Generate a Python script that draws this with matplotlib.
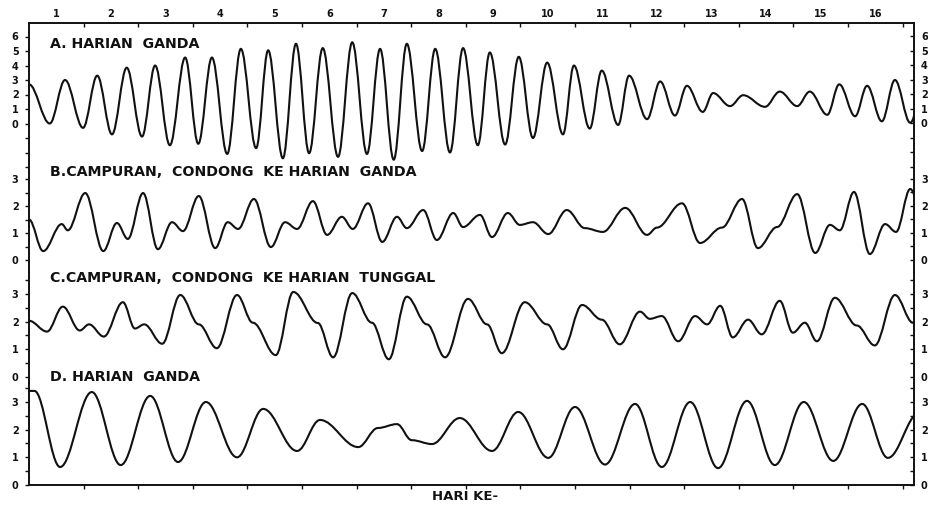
import matplotlib
matplotlib.use("Agg")
import matplotlib.pyplot as plt
from matplotlib.path import Path
from matplotlib.patches import PathPatch

plt.rcParams['font.family'] = ['DejaVu Sans']
plt.rcParams['font.weight'] = 'bold'

# ---------------- data (turning points) ----------------
# x in days from start of record, y in metres
day_labels = [str(d) for d in range(1, 17)]

a_title = "A. HARIAN  GANDA"
a_days = [0.00, 0.38, 0.66, 0.99, 1.25, 1.52, 1.79, 2.07, 2.31, 2.58, 2.86, 3.10, 3.35, 3.63,
          3.88, 4.16, 4.38, 4.65, 4.89, 5.13, 5.38, 5.66, 5.92, 6.19, 6.43, 6.68, 6.92, 7.20,
          7.44, 7.71, 7.95, 8.22, 8.44, 8.72, 8.97, 9.23, 9.49, 9.78, 9.98, 10.27, 10.49, 10.79,
          10.99, 11.32, 11.56, 11.83, 12.05, 12.34, 12.53, 12.84, 13.08, 13.48, 13.75, 14.07,
          14.30, 14.62, 14.84, 15.13, 15.35, 15.62, 15.86, 16.14, 16.41]
a_level = [2.7, 0.0, 3.0, -0.3, 3.3, -0.75, 3.85, -0.9, 4.0, -1.5, 4.55, -1.4, 4.55, -2.1,
           5.15, -1.7, 5.05, -2.4, 5.5, -2.05, 5.2, -2.3, 5.6, -2.1, 5.15, -2.5, 5.5, -1.9,
           5.15, -2.0, 5.2, -1.5, 4.9, -1.45, 4.6, -1.0, 4.2, -0.75, 4.0, -0.35, 3.65, -0.1,
           3.3, 0.3, 2.9, 0.55, 2.6, 0.8, 2.1, 1.2, 1.95, 1.15, 2.2, 1.2,
           2.2, 0.6, 2.7, 0.5, 2.6, 0.15, 3.0, 0.05, 3.0]

b_title = "B.CAMPURAN,  CONDONG  KE HARIAN  GANDA"
b_days = [0.00, 0.26, 0.60, 0.71, 1.03, 1.36, 1.61, 1.81, 2.09, 2.36, 2.62, 2.82, 3.11, 3.41,
          3.64, 3.83, 4.12, 4.43, 4.69, 4.91, 5.20, 5.46, 5.73, 5.93, 6.21, 6.47, 6.74, 6.92,
          7.22, 7.47, 7.77, 7.95, 8.26, 8.48, 8.77, 8.99, 9.23, 9.51, 9.85, 10.18, 10.51, 10.92,
          11.32, 11.50, 11.96, 12.29, 12.69, 13.06, 13.35, 13.70, 14.07, 14.40, 14.67, 14.85,
          15.11, 15.40, 15.68, 15.88, 16.14, 16.50]
b_level = [1.5, 0.33, 1.33, 1.1, 2.48, 0.33, 1.37, 0.78, 2.48, 0.4, 1.4, 1.07, 2.37, 0.44,
           1.4, 1.15, 2.26, 0.48, 1.4, 1.15, 2.18, 0.93, 1.6, 1.15, 2.1, 0.67, 1.6, 1.18,
           1.85, 0.74, 1.74, 1.22, 1.67, 0.85, 1.74, 1.3, 1.4, 0.96, 1.85, 1.18, 1.04, 1.93,
           0.93, 1.2, 2.1, 0.63, 1.2, 2.26, 0.44, 1.22, 2.44, 0.26, 1.3, 1.1,
           2.52, 0.22, 1.33, 1.04, 2.63, 0.3]

c_title = "C.CAMPURAN,  CONDONG  KE HARIAN  TUNGGAL"
c_days = [0.00, 0.33, 0.62, 0.93, 1.10, 1.37, 1.72, 1.94, 2.11, 2.44, 2.77, 3.11, 3.44, 3.81,
          4.10, 4.52, 4.84, 5.29, 5.57, 5.92, 6.28, 6.59, 6.92, 7.29, 7.62, 8.04, 8.39, 8.66,
          9.08, 9.49, 9.78, 10.13, 10.49, 10.82, 11.19, 11.37, 11.59, 11.89, 12.20, 12.42,
          12.66, 12.89, 13.17, 13.42, 13.75, 13.99, 14.21, 14.43, 14.76, 15.16, 15.49, 15.86,
          16.19, 16.50]
c_level = [2.03, 1.64, 2.54, 1.68, 1.9, 1.46, 2.7, 1.75, 1.9, 1.2, 2.96, 1.9, 1.04, 2.96,
           1.96, 0.79, 3.07, 1.95, 0.71, 3.03, 1.96, 0.64, 2.9, 1.9, 0.71, 2.82, 1.9, 0.86,
           2.7, 1.9, 1.0, 2.6, 2.07, 1.18, 2.36, 2.1, 2.2, 1.29, 2.2, 1.9,
           2.57, 1.43, 2.07, 1.54, 2.75, 1.6, 1.96, 1.29, 2.86, 1.86, 1.14, 2.96,
           1.96, 1.3]

d_title = "D. HARIAN  GANDA"
d_days = [0.00, 0.10, 0.57, 1.15, 1.68, 2.22, 2.73, 3.24, 3.81, 4.29, 4.91, 5.33, 6.03, 6.39,
          6.74, 7.01, 7.38, 7.89, 8.48, 8.96, 9.51, 10.00, 10.55, 11.10, 11.59, 12.11, 12.62,
          13.15, 13.66, 14.19, 14.73, 15.26, 15.73, 16.30]
d_level = [3.4, 3.4, 0.65, 3.36, 0.72, 3.22, 0.83, 3.0, 1.0, 2.75, 1.23, 2.35, 1.37, 2.06,
           2.2, 1.62, 1.48, 2.42, 1.23, 2.64, 0.98, 2.82, 0.74, 2.93, 0.65, 3.0, 0.61,
           3.04, 0.72, 3.0, 0.87, 2.93, 0.98, 2.6]

x_label = "HARI KE-"

# ---------------- layout ----------------
W, H = 929, 507
fig = plt.figure(figsize=(W / 100, H / 100), dpi=100)
fig.patch.set_facecolor('white')

left_px, right_px = 29, 914
px_per_day = 54.6
xmax = (right_px - left_px) / px_per_day

def fx(px):
    return px / W

def fy(py):
    return 1 - py / H

# (top_px, bottom_px, zero_px, px_per_unit, ticks, labels)
panels = [
    dict(top=23, bot=168, zero=123.5, ppu=14.5, days=a_days, lev=a_level, title=a_title, ty=44,
         ticks=list(range(-3, 7)), labels=['' if t < 0 else str(t) for t in range(-3, 7)]),
    dict(top=168, bot=272, zero=260, ppu=27.0, days=b_days, lev=b_level, title=b_title, ty=172,
         ticks=[i * 0.5 for i in range(0, 7)], labels=[str(int(i * 0.5)) if i % 2 == 0 else '' for i in range(0, 7)]),
    dict(top=272, bot=383, zero=377, ppu=27.7, days=c_days, lev=c_level, title=c_title, ty=278,
         ticks=[i * 0.5 for i in range(0, 8)], labels=[str(int(i * 0.5)) if i % 2 == 0 else '' for i in range(0, 8)]),
    dict(top=383, bot=485, zero=485, ppu=27.67, days=d_days, lev=d_level, title=d_title, ty=377,
         ticks=[i * 0.5 for i in range(0, 8)], labels=[str(int(i * 0.5)) if i % 2 == 0 else '' for i in range(0, 8)]),
]

def tide_path(days, levels, k=0.364):
    verts = [(days[0], levels[0])]
    codes = [Path.MOVETO]
    for i in range(len(days) - 1):
        x0, y0, x1, y1 = days[i], levels[i], days[i + 1], levels[i + 1]
        dx = x1 - x0
        verts += [(x0 + k * dx, y0), (x1 - k * dx, y1), (x1, y1)]
        codes += [Path.CURVE4] * 3
    return Path(verts, codes)

lw_frame = 1.4
tick_len = 3.0
ink = '#111111'
axes = []
for i, p in enumerate(panels):
    ax = fig.add_axes([fx(left_px), fy(p['bot']), fx(right_px) - fx(left_px), fy(p['top']) - fy(p['bot'])])
    ax.set_xlim(0, xmax)
    ax.set_ylim((p['zero'] - p['bot']) / p['ppu'], (p['zero'] - p['top']) / p['ppu'])
    ax.set_facecolor('none')
    for s in ['left', 'right', 'top', 'bottom']:
        ax.spines[s].set_linewidth(lw_frame)
        ax.spines[s].set_color(ink)
    ax.spines['top'].set_visible(i == 0)
    ax.spines['bottom'].set_visible(i == 3)

    ax.add_patch(PathPatch(tide_path(p['days'], p['lev']), fill=False, lw=1.5, ec=ink,
                           capstyle='round', joinstyle='round'))

    # y ticks left (out) and right (in)
    ax.set_yticks(p['ticks'])
    ax.set_yticklabels(p['labels'])
    ax.tick_params(axis='y', which='major', left=True, right=False, direction='out',
                   length=tick_len, width=1.0, color=ink, labelsize=7, pad=4.5, labelcolor=ink)
    ay = ax.secondary_yaxis('right')
    ay.set_yticks(p['ticks'])
    ay.set_yticklabels(p['labels'])
    ay.tick_params(axis='y', direction='in', length=tick_len, width=1.0, color=ink,
                   labelsize=7, pad=5, labelcolor=ink)
    ay.spines['right'].set_visible(False)
    for lab in ax.get_yticklabels() + ay.get_yticklabels():
        lab.set_fontweight('bold')

    ax.set_xticks([])
    fig.text(fx(50), fy(p['ty']), p['title'], ha='left', va='center', fontsize=10.2,
             fontweight='bold', color=ink)
    axes.append(ax)

# top axis: ticks at day boundaries, labels at day centres
axA = axes[0]
axA.xaxis.set_ticks_position('top')
axA.set_xticks(list(range(1, 17)))
axA.set_xticklabels([''] * 16)
axA.set_xticks([d - 0.5 for d in range(1, 17)], minor=True)
axA.set_xticklabels(day_labels, minor=True)
axA.tick_params(axis='x', which='major', top=True, bottom=False, direction='in',
                length=tick_len, width=1.0, color=ink)
axA.tick_params(axis='x', which='minor', top=True, bottom=False, length=0, pad=3,
                labelsize=7, labelcolor=ink, labeltop=True, labelbottom=False)
for lab in axA.get_xticklabels(minor=True):
    lab.set_fontweight('bold')

# bottom axis
axD = axes[3]
axD.set_xticks(list(range(1, 17)))
axD.set_xticklabels([''] * 16)
axD.tick_params(axis='x', which='major', bottom=True, top=False, direction='out',
                length=tick_len, width=1.0, color=ink)

fig.text(fx(465), fy(497), x_label, ha='center', va='center', fontsize=9.5,
         fontweight='bold', color=ink)

fig.savefig('out.png', dpi=100, facecolor='white')
